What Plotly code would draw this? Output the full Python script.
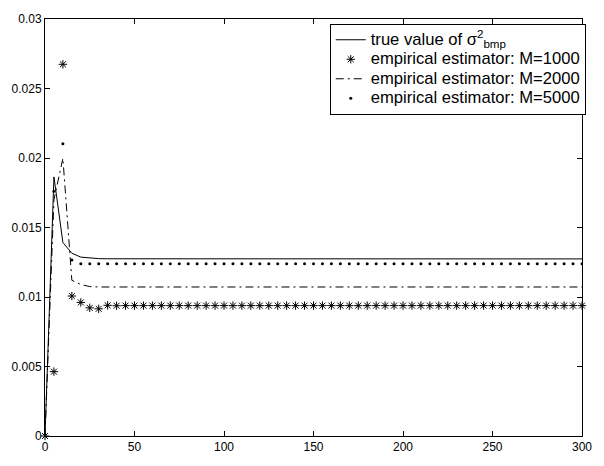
import plotly.graph_objects as go

# sample positions (every 5 steps up to 300)
x_vals = list(range(0, 301, 5))

# true value of sigma^2_bmp
true_value = [0.0, 0.01864, 0.01392, 0.01315, 0.01287, 0.01279, 0.01276, 0.01275, 0.01275, 0.01274,
              0.01274, 0.01274, 0.01274, 0.01274, 0.01274, 0.01274, 0.01274, 0.01274, 0.01274, 0.01274,
              0.01274, 0.01274, 0.01274, 0.01274, 0.01274, 0.01274, 0.01274, 0.01274, 0.01274, 0.01274,
              0.01274, 0.01274, 0.01274, 0.01274, 0.01274, 0.01274, 0.01274, 0.01274, 0.01274, 0.01274,
              0.01274, 0.01274, 0.01274, 0.01274, 0.01274, 0.01274, 0.01274, 0.01274, 0.01274, 0.01274,
              0.01274, 0.01274, 0.01274, 0.01274, 0.01274, 0.01274, 0.01274, 0.01274, 0.01274, 0.01274,
              0.01274]

# empirical estimator, M=1000
est_m1000 = [0.0, 0.00463, 0.02674, 0.01007, 0.00961, 0.00922, 0.00915, 0.00940, 0.00937, 0.00938,
             0.00938, 0.00938, 0.00938, 0.00938, 0.00938, 0.00938, 0.00938, 0.00938, 0.00938, 0.00938,
             0.00938, 0.00938, 0.00938, 0.00938, 0.00938, 0.00938, 0.00938, 0.00938, 0.00938, 0.00938,
             0.00938, 0.00938, 0.00938, 0.00938, 0.00938, 0.00938, 0.00938, 0.00938, 0.00938, 0.00938,
             0.00938, 0.00938, 0.00938, 0.00938, 0.00938, 0.00938, 0.00938, 0.00938, 0.00938, 0.00938,
             0.00938, 0.00938, 0.00938, 0.00938, 0.00938, 0.00938, 0.00938, 0.00938, 0.00938, 0.00938,
             0.00938]

# empirical estimator, M=2000
est_m2000 = [0.0, 0.01700, 0.01998, 0.01120, 0.01090, 0.01075, 0.01072, 0.01072, 0.01072, 0.01072,
             0.01072, 0.01072, 0.01072, 0.01072, 0.01072, 0.01072, 0.01072, 0.01072, 0.01072, 0.01072,
             0.01072, 0.01072, 0.01072, 0.01072, 0.01072, 0.01072, 0.01072, 0.01072, 0.01072, 0.01072,
             0.01072, 0.01072, 0.01072, 0.01072, 0.01072, 0.01072, 0.01072, 0.01072, 0.01072, 0.01072,
             0.01072, 0.01072, 0.01072, 0.01072, 0.01072, 0.01072, 0.01072, 0.01072, 0.01072, 0.01072,
             0.01072, 0.01072, 0.01072, 0.01072, 0.01072, 0.01072, 0.01072, 0.01072, 0.01072, 0.01072,
             0.01072]

# empirical estimator, M=5000
est_m5000 = [0.0, 0.01760, 0.02102, 0.01266, 0.01240, 0.01239, 0.01239, 0.01239, 0.01239, 0.01239,
             0.01239, 0.01239, 0.01239, 0.01239, 0.01239, 0.01239, 0.01239, 0.01239, 0.01239, 0.01239,
             0.01239, 0.01239, 0.01239, 0.01239, 0.01239, 0.01239, 0.01239, 0.01239, 0.01239, 0.01239,
             0.01239, 0.01239, 0.01239, 0.01239, 0.01239, 0.01239, 0.01239, 0.01239, 0.01239, 0.01239,
             0.01239, 0.01239, 0.01239, 0.01239, 0.01239, 0.01239, 0.01239, 0.01239, 0.01239, 0.01239,
             0.01239, 0.01239, 0.01239, 0.01239, 0.01239, 0.01239, 0.01239, 0.01239, 0.01239, 0.01239,
             0.01239]

x_ticks = [0, 50, 100, 150, 200, 250, 300]
y_ticks = [0, 0.005, 0.01, 0.015, 0.02, 0.025, 0.03]
y_tick_text = ["0", "0.005", "0.01", "0.015", "0.02", "0.025", "0.03"]

FONT = "Liberation Sans, Arial, Helvetica, sans-serif"


def legend_label(text):
    # larger label text while keeping the legend rows compact
    return '<span style="font-size:16.6px">' + text + "</span>"


fig = go.Figure()

fig.add_trace(go.Scatter(
    x=x_vals, y=true_value, mode="lines",
    line=dict(color="black", width=1),
    name=legend_label("true value of σ<sup>2</sup><sub>bmp</sub>"),
))
fig.add_trace(go.Scatter(
    x=x_vals, y=est_m1000, mode="markers",
    marker=dict(symbol="asterisk-open", size=7, color="black",
                line=dict(color="black", width=1)),
    cliponaxis=False,
    name=legend_label("empirical estimator: M=1000"),
))
fig.add_trace(go.Scatter(
    x=x_vals, y=est_m2000, mode="lines",
    line=dict(color="black", width=1, dash="8px,4px,2px,4px"),
    name=legend_label("empirical estimator: M=2000"),
))
fig.add_trace(go.Scatter(
    x=x_vals, y=est_m5000, mode="markers",
    marker=dict(symbol="circle", size=3, color="black"),
    name=legend_label("empirical estimator: M=5000"),
))

axis_common = dict(
    showline=True, linecolor="black", linewidth=1, mirror="ticks",
    ticks="inside", ticklen=5, tickwidth=1, tickcolor="black",
    showgrid=False, zeroline=False,
    tickfont=dict(family=FONT, size=12, color="black"),
)

fig.update_xaxes(range=[0, 300], tickvals=x_ticks, **axis_common)
fig.update_yaxes(range=[0, 0.03], tickvals=y_ticks, ticktext=y_tick_text, **axis_common)

fig.update_layout(
    width=604, height=466,
    margin=dict(l=43, r=12, t=16, b=18),
    paper_bgcolor="white", plot_bgcolor="white",
    font=dict(family=FONT, size=12, color="black"),
    showlegend=True,
    legend=dict(
        x=1.007, y=0.988, xanchor="right", yanchor="top",
        bgcolor="white", bordercolor="black", borderwidth=1,
        font=dict(family=FONT, size=12.7, color="black"),
        tracegroupgap=0, itemwidth=30,
    ),
)

fig.write_html("out.html")
